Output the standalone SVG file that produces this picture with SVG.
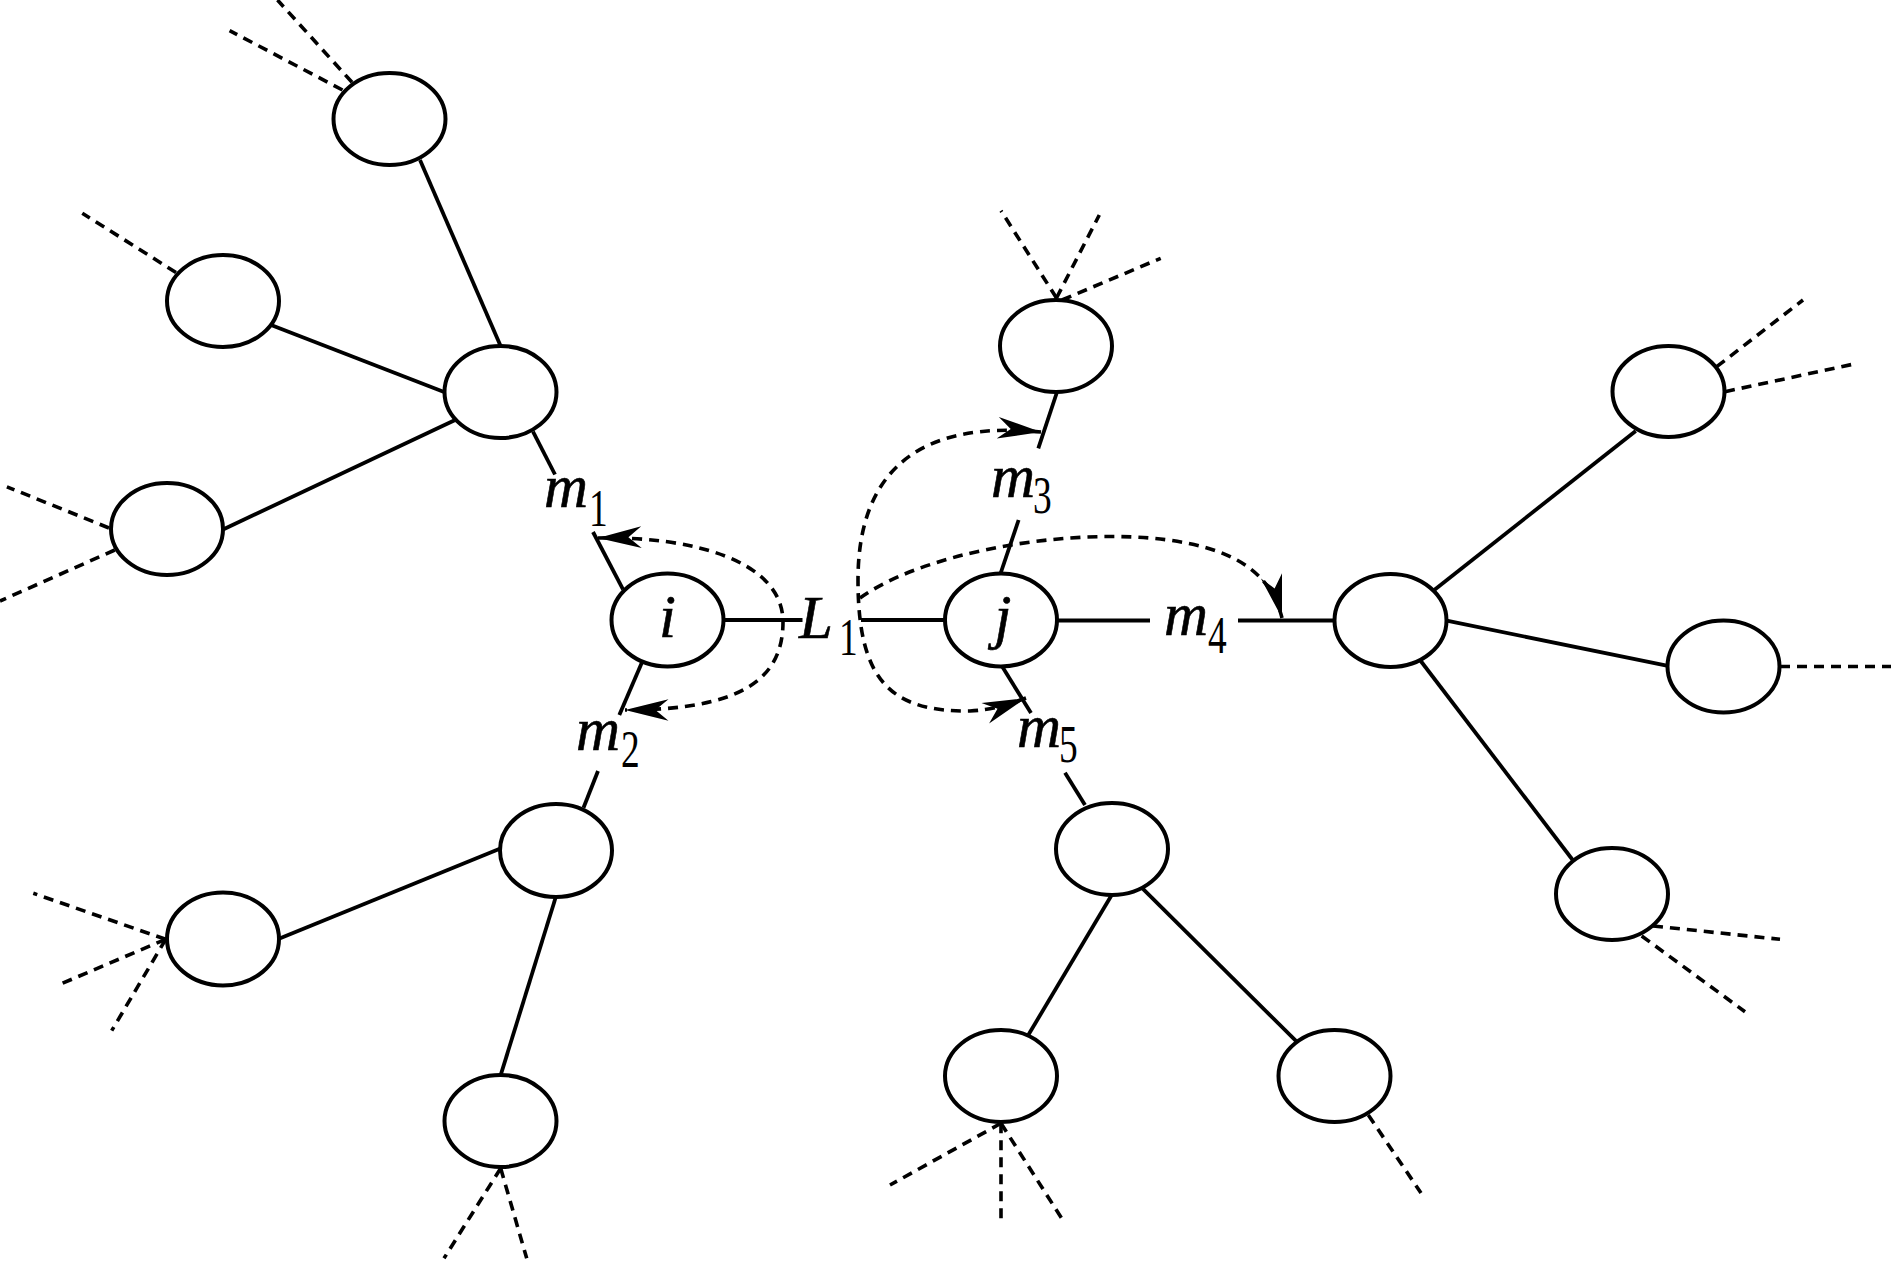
<svg xmlns="http://www.w3.org/2000/svg" width="1891" height="1266" viewBox="0 0 1891 1266">
<style>
.node{fill:#fff;stroke:#000;stroke-width:4}
.e{stroke:#000;stroke-width:3.8;fill:none}
.d{stroke:#000;stroke-width:3.6;fill:none;stroke-dasharray:10 7}
.lbl{font-family:"Liberation Serif","Times New Roman",serif;font-style:italic;font-size:61px;fill:#000;stroke:#000;stroke-width:0.6}
.sub{font-family:"Liberation Serif","Times New Roman",serif;font-size:52px;fill:#000}
</style>
<defs>
<marker id="ah" markerUnits="userSpaceOnUse" markerWidth="50" markerHeight="30" viewBox="-42 -13 46 26" refX="0" refY="0" orient="auto-start-reverse">
<path d="M0,0 L-40,-10 L-28,0 L-40,10 Z" fill="#000"/>
</marker>
</defs>
<rect width="1891" height="1266" fill="#fff"/>
<g id="connectors">
<line class="e" x1="420" y1="160" x2="500.6" y2="346"/>
<line class="e" x1="271.7" y1="325.3" x2="444.7" y2="392.3"/>
<line class="e" x1="222" y1="530" x2="454.6" y2="420.2"/>
<line class="e" x1="533" y1="431.7" x2="555" y2="474.5"/>
<line class="e" x1="593" y1="532" x2="623" y2="589.3"/>
<line class="e" x1="641.8" y1="662.7" x2="619.3" y2="715"/>
<line class="e" x1="598" y1="771" x2="583.5" y2="807.7"/>
<line class="e" x1="278.3" y1="939" x2="501" y2="848.3"/>
<line class="e" x1="555.8" y1="897" x2="500.7" y2="1075"/>
<line class="e" x1="724" y1="620" x2="802.5" y2="620"/>
<line class="e" x1="861" y1="620" x2="945" y2="620"/>
<line class="e" x1="1056.7" y1="393" x2="1038.3" y2="448.3"/>
<line class="e" x1="1018.6" y1="520" x2="1000.7" y2="573"/>
<line class="e" x1="1057" y1="620.5" x2="1150" y2="620.5"/>
<line class="e" x1="1238" y1="620.5" x2="1334.5" y2="620.5"/>
<line class="e" x1="1002.5" y1="667" x2="1031" y2="713"/>
<line class="e" x1="1065" y1="772.7" x2="1085" y2="805"/>
<line class="e" x1="1111.7" y1="895" x2="1028.3" y2="1035"/>
<line class="e" x1="1141.7" y1="887.7" x2="1296.7" y2="1041.7"/>
<line class="e" x1="1433.3" y1="590.7" x2="1635.7" y2="431"/>
<line class="e" x1="1446.7" y1="620.7" x2="1666.7" y2="665.7"/>
<line class="e" x1="1420" y1="660" x2="1572.7" y2="860"/>
<line class="d" x1="352" y1="82.3" x2="277.5" y2="0"/>
<line class="d" x1="342.5" y1="90" x2="229.6" y2="30.6"/>
<line class="d" x1="176" y1="272.5" x2="82.3" y2="213.2"/>
<line class="d" x1="109" y1="528" x2="6.9" y2="486.8"/>
<line class="d" x1="114.8" y1="550" x2="0" y2="601"/>
<line class="d" x1="165.7" y1="939.3" x2="33.3" y2="893.3"/>
<line class="d" x1="165.7" y1="939.3" x2="62.3" y2="983.3"/>
<line class="d" x1="165.7" y1="939.3" x2="111.7" y2="1030.7"/>
<line class="d" x1="500.7" y1="1168.3" x2="444" y2="1258.3"/>
<line class="d" x1="500.7" y1="1168.3" x2="526.7" y2="1258.3"/>
<line class="d" x1="1056.5" y1="298" x2="1001" y2="210.7"/>
<line class="d" x1="1056.5" y1="298" x2="1099.3" y2="215"/>
<line class="d" x1="1062" y1="300" x2="1160.7" y2="258.3"/>
<line class="d" x1="1716.7" y1="366.7" x2="1803" y2="300"/>
<line class="d" x1="1725" y1="391.7" x2="1854" y2="364"/>
<line class="d" x1="1780" y1="666.5" x2="1891" y2="666.5"/>
<line class="d" x1="1653" y1="926" x2="1780" y2="939.3"/>
<line class="d" x1="1641.7" y1="936" x2="1745" y2="1011.7"/>
<line class="d" x1="1001" y1="1123.3" x2="890" y2="1185"/>
<line class="d" x1="1001" y1="1123.3" x2="1001" y2="1218.3"/>
<line class="d" x1="1001" y1="1123.3" x2="1061.7" y2="1218.3"/>
<line class="d" x1="1368.3" y1="1115" x2="1421" y2="1193"/>
<path class="d" d="M598,538 C690,536 783,560 783,622 C783,680 740,710 625,710" marker-start="url(#ah)" marker-end="url(#ah)"/>
<path class="d" d="M1041,432 C920,420 858,470 858,580 C858,680 890,712 970,711 C992,710 1010,704 1026,698" marker-start="url(#ah)" marker-end="url(#ah)"/>
<path class="d" d="M860,598 C920,555 1050,530 1150,538 C1230,545 1270,570 1282,618" marker-end="url(#ah)"/>
</g>
<g id="node-a1"><ellipse class="node" cx="389.5" cy="119" rx="56" ry="46"/></g>
<g id="node-a2"><ellipse class="node" cx="223" cy="301" rx="56" ry="46"/></g>
<g id="node-a"><ellipse class="node" cx="500.5" cy="392" rx="56" ry="46"/></g>
<g id="node-a3"><ellipse class="node" cx="167" cy="529" rx="56" ry="46"/></g>
<g id="node-i"><ellipse class="node" cx="667.5" cy="620" rx="56" ry="46.5"/><text class="lbl" x="667.5" y="637" text-anchor="middle">i</text></g>
<g id="node-j"><ellipse class="node" cx="1001" cy="620" rx="56" ry="46.5"/><text class="lbl" x="1003" y="637" text-anchor="middle">j</text></g>
<g id="node-b"><ellipse class="node" cx="556" cy="850.5" rx="56" ry="46.5"/></g>
<g id="node-b1"><ellipse class="node" cx="223" cy="939" rx="56" ry="46.5"/></g>
<g id="node-b2"><ellipse class="node" cx="500.5" cy="1121" rx="56" ry="46"/></g>
<g id="node-c"><ellipse class="node" cx="1056" cy="346" rx="56" ry="46"/></g>
<g id="node-d"><ellipse class="node" cx="1390.5" cy="620.5" rx="56" ry="46.5"/></g>
<g id="node-d1"><ellipse class="node" cx="1668.5" cy="391.5" rx="56" ry="45.5"/></g>
<g id="node-d2"><ellipse class="node" cx="1723.5" cy="666.5" rx="56" ry="46"/></g>
<g id="node-d3"><ellipse class="node" cx="1612" cy="894" rx="56" ry="46"/></g>
<g id="node-e"><ellipse class="node" cx="1112" cy="849" rx="56" ry="46"/></g>
<g id="node-e1"><ellipse class="node" cx="1001" cy="1076" rx="56" ry="46"/></g>
<g id="node-e2"><ellipse class="node" cx="1334.5" cy="1076" rx="56" ry="46"/></g>
<g id="labels">
<text class="lbl" x="544" y="507">m</text><text class="sub" transform="translate(589,526) scale(0.72,1)">1</text>
<text class="lbl" x="576" y="750">m</text><text class="sub" transform="translate(621,767) scale(0.72,1)">2</text>
<text class="lbl" x="991" y="497">m</text><text class="sub" transform="translate(1033,513) scale(0.72,1)">3</text>
<text class="lbl" x="1164" y="635">m</text><text class="sub" transform="translate(1208,653) scale(0.72,1)">4</text>
<text class="lbl" x="1017" y="747">m</text><text class="sub" transform="translate(1059,762) scale(0.72,1)">5</text>
<text class="lbl" x="799" y="638">L</text><text class="sub" transform="translate(839,655) scale(0.72,1)">1</text>
</g>
</svg>
